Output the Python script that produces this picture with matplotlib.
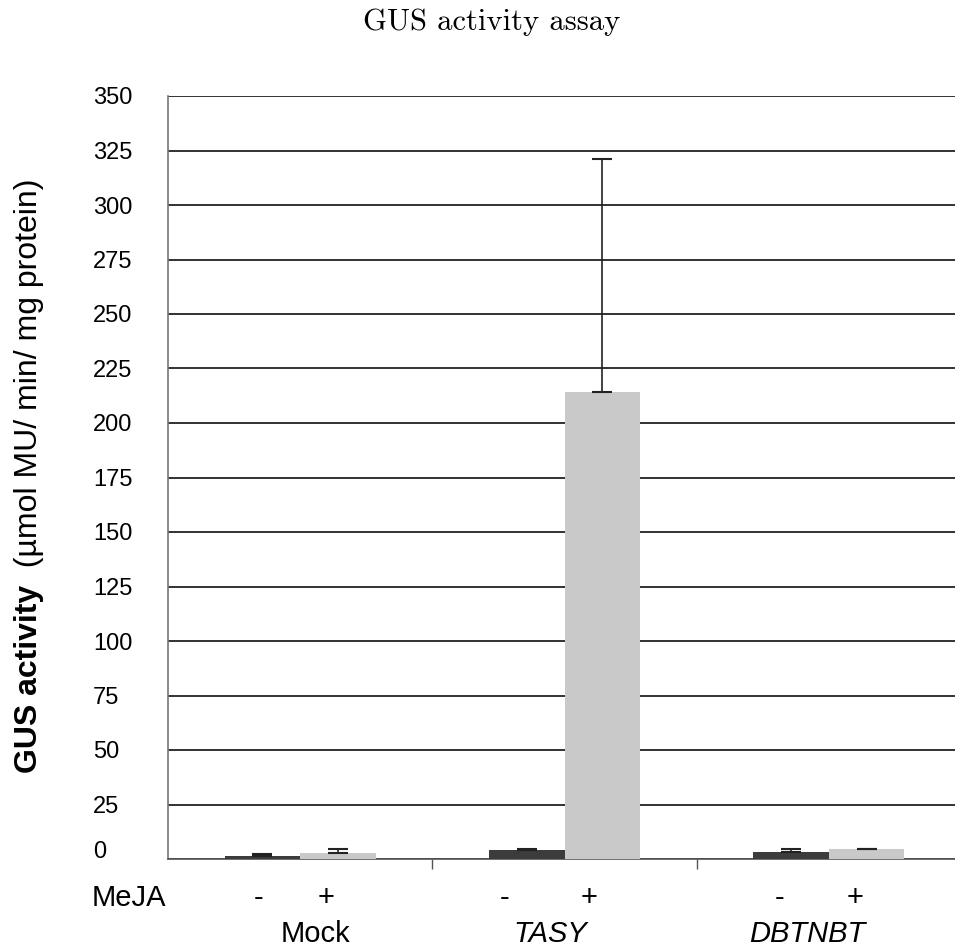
import matplotlib
matplotlib.use("Agg")
import matplotlib.pyplot as plt
import matplotlib.transforms as mtransforms
import numpy as np

categories = ["Mock", "TASY", "DBTNBT"]
category_italic = [False, True, True]
minus_values = [1.5, 4.0, 3.2]
minus_errors = [0.8, 0.6, 1.2]
plus_values = [2.7, 214.0, 4.5]
plus_errors = [1.9, 107.0, 0.3]
yticks = list(range(0, 351, 25))
# label offsets within each category slot (in category units)
minus_label_pos = [0.344, 0.275, 0.312]
plus_label_pos = [0.598, 0.593, 0.599]
name_label_pos = [0.556, 0.445, 0.418]

plt.rcParams['font.family'] = ['Liberation Sans', 'DejaVu Sans']

fig = plt.figure(figsize=(9.55, 9.5), dpi=100)
ax = fig.add_axes([168/955, 1-859/950, (961-168)/955, (859-96)/950])

x = np.arange(len(categories)) + 0.5
w = 0.285
ax.bar(x - w/2, minus_values, width=w, color="#3c3c3c", zorder=3)
ax.bar(x + w/2, plus_values, width=w, color="#c9c9c9", zorder=3)
ax.errorbar(x - w/2, minus_values, yerr=[np.zeros(3), minus_errors], fmt="none",
            ecolor="#222222", elinewidth=1.2, capsize=7, capthick=1.5, zorder=4)
ax.errorbar(x + w/2, plus_values, yerr=[np.zeros(3), plus_errors], fmt="none",
            ecolor="#222222", elinewidth=1.2, capsize=7, capthick=1.5, zorder=4)

ax.set_xlim(0, 3)
ax.set_ylim(0, 350)
ax.set_yticks(yticks)
ax.set_yticklabels([str(v) for v in yticks], fontsize=17)
ax.tick_params(axis='y', length=0, pad=(168-93)*72/100)
for lbl in ax.get_yticklabels():
    lbl.set_horizontalalignment('left')
lbls = ax.get_yticklabels()
lbls[0].set_transform(lbls[0].get_transform() +
                      mtransforms.ScaledTranslation(0, 9/100, fig.dpi_scale_trans))
ax.set_xticks([1, 2])
ax.set_xticklabels([])
ax.tick_params(axis='x', length=7, width=1, color="#555555", direction='out')
ax.yaxis.grid(True, color="#222222", linewidth=1.3, zorder=0)
ax.set_axisbelow(True)
for s in ['top', 'right']:
    ax.spines[s].set_visible(False)
ax.spines['left'].set_color("#777777")
ax.spines['bottom'].set_color("#555555")
ax.spines['left'].set_linewidth(1.2)
ax.spines['bottom'].set_linewidth(1.2)

trans = mtransforms.blended_transform_factory(ax.transData, fig.transFigure)
fig.text(92/955, 1-898/950, "MeJA", fontsize=21, ha='left', va='center')
for i, c in enumerate(categories):
    fig.text(i + minus_label_pos[i], 1-898/950, "-", fontsize=21, ha='center', va='center',
             transform=trans)
    fig.text(i + plus_label_pos[i], 1-898/950, "+", fontsize=21, ha='center', va='center',
             transform=trans)
    fig.text(i + name_label_pos[i], 1-934/950, c, fontsize=21, ha='center', va='center',
             transform=trans, style='italic' if category_italic[i] else 'normal')

fig.text(492/955, 1-22/950, "GUS activity assay", fontsize=22, ha='center', va='center',
         family='cmr10')

ylab_bold = "GUS activity"
ylab_rest = "  (\u00b5mol MU/ min/ mg protein)"
t1 = fig.text(29/955, 1-773/950, ylab_bold, fontsize=23, fontweight='bold', rotation=90,
              ha='center', va='bottom')
fig.canvas.draw()
bb = t1.get_window_extent()
fig.text(29/955, bb.y1/950, ylab_rest, fontsize=23, rotation=90, ha='center', va='bottom')

fig.savefig("out.png", dpi=100)
